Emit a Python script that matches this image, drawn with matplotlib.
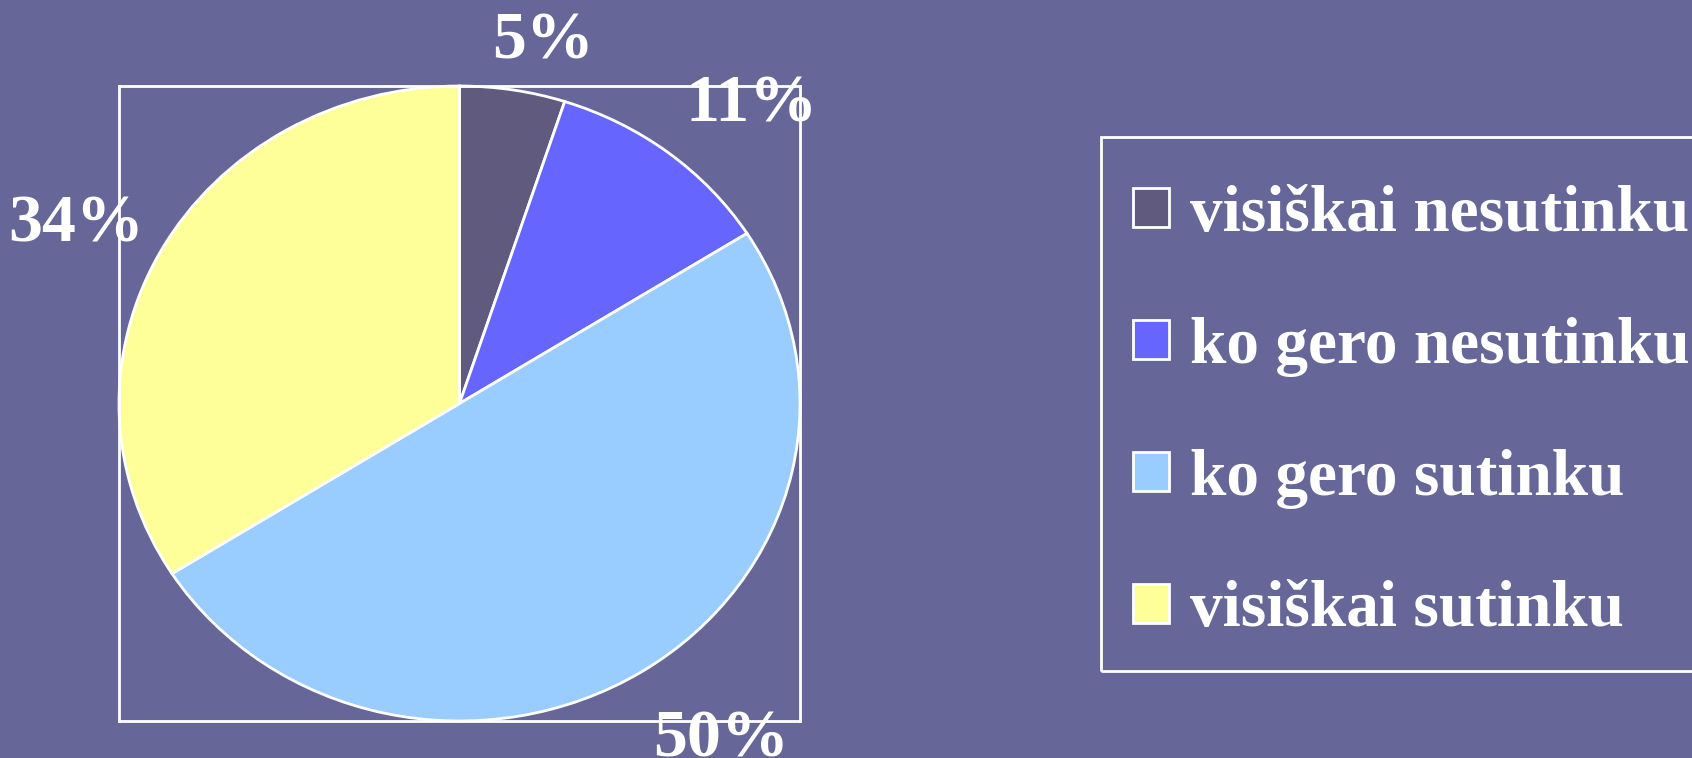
import matplotlib
matplotlib.use("Agg")
import matplotlib.pyplot as plt
from matplotlib.patches import Rectangle
import numpy as np

categories = ["visiškai nesutinku", "ko gero nesutinku", "ko gero sutinku", "visiškai sutinku"]
values = [5, 11, 50, 34]
colors = ["#605A7E", "#6666FF", "#99CCFF", "#FFFF99"]
# label placement style: radial distance and angular offset (degrees) from wedge middle
label_dist = [1.165, 1.273, 1.309, 1.257]
label_dang = [-3.2, -4.5, 3.5, 2.3]

bg = "#666699"
W, H = 1692, 758
fig = plt.figure(figsize=(W / 100, H / 100), dpi=100, facecolor=bg)
plt.rcParams['font.family'] = ['Liberation Serif', 'DejaVu Serif']

ax = fig.add_axes([119 / W, 1 - 721 / H, 681 / W, 635 / H])
ax.set_facecolor(bg)
wedges, _ = ax.pie(values, colors=colors, startangle=90, counterclock=False,
                   radius=1.0, wedgeprops=dict(edgecolor="white", linewidth=2))
ax.set_aspect('auto')
ax.set_xlim(-1, 1)
ax.set_ylim(-1, 1)
ax.set_frame_on(True)
for s in ax.spines.values():
    s.set_color("white")
    s.set_linewidth(2)
ax.set_xticks([])
ax.set_yticks([])

total = sum(values)
for w, v, d, da in zip(wedges, values, label_dist, label_dang):
    ang = np.deg2rad((w.theta1 + w.theta2) / 2 + da)
    ax.text(d * np.cos(ang), d * np.sin(ang), f"{round(100 * v / total)}%",
            ha="center", va="center", fontsize=49, fontweight="bold",
            color="white", clip_on=False)

# legend frame (extends past the right edge, as in the original)
fig.patches.append(Rectangle((1101 / W, 1 - 671 / H), 700 / W, 534 / H,
                             transform=fig.transFigure, fill=False,
                             edgecolor="white", linewidth=2, zorder=1))

leg = fig.legend(wedges, categories, loc="upper left",
                 bbox_to_anchor=(1133 / W, 1 - 185 / H), bbox_transform=fig.transFigure,
                 frameon=False,
                 prop=dict(family="Liberation Serif", weight="bold", size=47),
                 labelcolor="white", handlelength=0.545, handleheight=0.545,
                 handletextpad=0.33, labelspacing=1.1, borderpad=0,
                 borderaxespad=0)
for h in leg.legend_handles:
    h.set_edgecolor("white")
    h.set_linewidth(2)

fig.savefig("out.png", dpi=100, facecolor=bg)
